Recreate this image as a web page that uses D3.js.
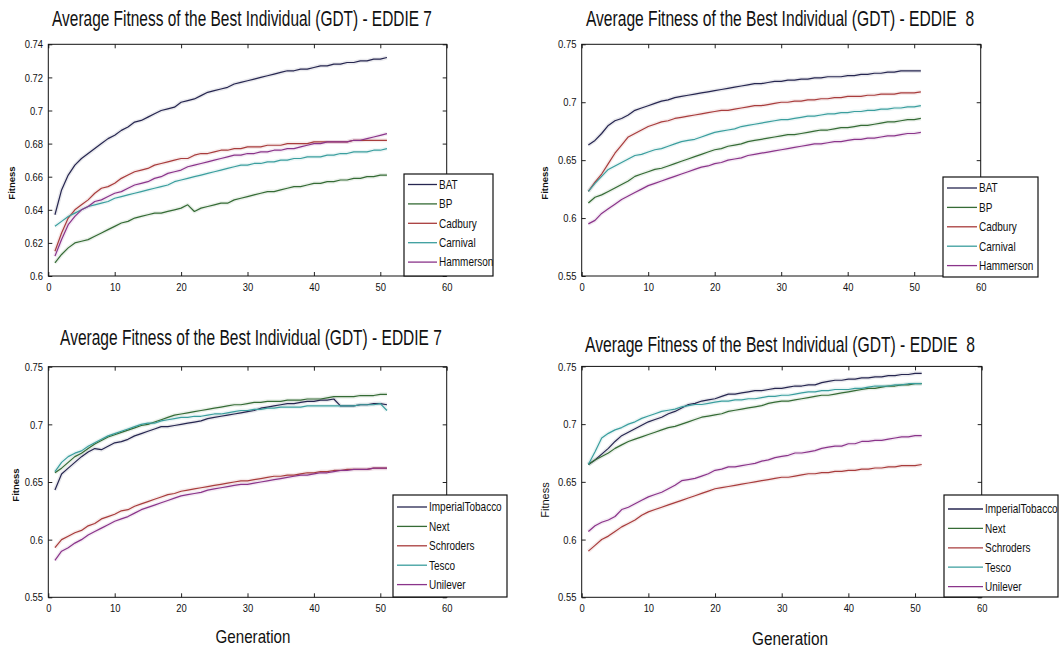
<!DOCTYPE html>
<html>
<head>
<meta charset="utf-8">
<script src="https://cdn.jsdelivr.net/npm/d3@7"></script>
<style>
  html, body { margin: 0; padding: 0; background: #fff; }
  svg { display: block; }
  text { font-family: "Liberation Sans", Arial, sans-serif; fill: #111; }
  .title { white-space: pre; }
</style>
</head>
<body>
<svg id="chart" width="1060" height="651"></svg>
<script>
// Generations on the x axis
const generations = [1,2,3,4,5,6,7,8,9,10,11,12,13,14,15,16,17,18,19,20,21,22,23,24,25,26,27,28,29,30,
  31,32,33,34,35,36,37,38,39,40,41,42,43,44,45,46,47,48,49,50,51];

// Tick values
const xTicks = [0, 10, 20, 30, 40, 50, 60];
const yTicksTopLeft = [0.6, 0.62, 0.64, 0.66, 0.68, 0.7, 0.72, 0.74];
const yTicksOther = [0.55, 0.6, 0.65, 0.7, 0.75];

// Company groups
const companiesA = ["BAT", "BP", "Cadbury", "Carnival", "Hammerson"];
const companiesB = ["ImperialTobacco", "Next", "Schroders", "Tesco", "Unilever"];
const seriesColors = ["#262650", "#356b35", "#a83c3c", "#3a9e9e", "#8a348a"];

// Panel titles
const titleEddie7 = "Average Fitness of the Best Individual (GDT) - EDDIE 7";
const titleEddie8 = "Average Fitness of the Best Individual (GDT) - EDDIE  8";

// EDDIE 7, first group
const e7BAT = [0.637,0.652,0.661,0.667,0.671,0.674,0.677,0.680,0.683,0.685,
  0.688,0.690,0.693,0.694,0.696,0.698,0.700,0.701,0.702,0.705,
  0.706,0.707,0.709,0.711,0.712,0.713,0.714,0.716,0.717,0.718,
  0.719,0.720,0.721,0.722,0.723,0.724,0.724,0.725,0.725,0.726,
  0.727,0.727,0.728,0.728,0.729,0.729,0.730,0.730,0.731,0.731,0.732];
const e7BP = [0.608,0.613,0.617,0.620,0.621,0.622,0.624,0.626,0.628,0.630,
  0.632,0.633,0.635,0.636,0.637,0.638,0.638,0.639,0.640,0.641,
  0.643,0.639,0.641,0.642,0.643,0.644,0.644,0.646,0.647,0.648,
  0.649,0.650,0.651,0.651,0.652,0.653,0.654,0.654,0.655,0.656,
  0.656,0.657,0.657,0.658,0.658,0.659,0.659,0.660,0.660,0.661,0.661];
const e7Cadbury = [0.615,0.626,0.635,0.640,0.643,0.646,0.650,0.653,0.654,0.656,
  0.659,0.661,0.663,0.664,0.665,0.667,0.668,0.669,0.670,0.671,
  0.671,0.673,0.674,0.674,0.675,0.676,0.676,0.677,0.677,0.678,
  0.678,0.678,0.679,0.679,0.679,0.680,0.680,0.680,0.680,0.681,
  0.681,0.681,0.681,0.681,0.681,0.682,0.682,0.682,0.682,0.682,0.682];
const e7Carnival = [0.630,0.633,0.636,0.638,0.640,0.642,0.643,0.644,0.645,0.647,
  0.648,0.649,0.650,0.651,0.652,0.653,0.654,0.655,0.657,0.658,
  0.659,0.660,0.661,0.662,0.663,0.664,0.665,0.666,0.667,0.667,
  0.668,0.668,0.669,0.669,0.670,0.670,0.671,0.671,0.672,0.672,
  0.672,0.673,0.673,0.674,0.674,0.675,0.675,0.675,0.676,0.676,0.677];
const e7Hammerson = [0.612,0.622,0.631,0.636,0.640,0.642,0.645,0.646,0.648,0.650,
  0.651,0.653,0.655,0.656,0.657,0.659,0.660,0.662,0.663,0.664,
  0.666,0.667,0.668,0.669,0.670,0.671,0.672,0.673,0.673,0.674,
  0.674,0.675,0.675,0.676,0.676,0.677,0.677,0.678,0.679,0.680,
  0.680,0.681,0.681,0.681,0.681,0.682,0.682,0.683,0.684,0.685,0.686];

// EDDIE 8, first group
const e8BAT = [0.663,0.667,0.673,0.680,0.684,0.686,0.689,0.693,0.695,0.697,
  0.699,0.701,0.702,0.704,0.705,0.706,0.707,0.708,0.709,0.710,
  0.711,0.712,0.713,0.714,0.715,0.716,0.716,0.717,0.718,0.718,
  0.719,0.719,0.720,0.720,0.721,0.721,0.722,0.722,0.722,0.723,
  0.723,0.724,0.724,0.725,0.725,0.726,0.726,0.727,0.727,0.727,0.727];
const e8BP = [0.613,0.618,0.620,0.623,0.626,0.629,0.632,0.636,0.638,0.640,
  0.642,0.643,0.645,0.647,0.649,0.651,0.653,0.655,0.657,0.659,
  0.660,0.662,0.663,0.664,0.666,0.667,0.668,0.669,0.670,0.671,
  0.672,0.672,0.673,0.674,0.675,0.676,0.676,0.677,0.678,0.678,
  0.679,0.680,0.680,0.681,0.682,0.683,0.683,0.684,0.685,0.685,0.686];
const e8Cadbury = [0.623,0.631,0.638,0.647,0.656,0.663,0.670,0.673,0.676,0.679,
  0.681,0.683,0.684,0.686,0.687,0.688,0.689,0.690,0.691,0.692,
  0.693,0.693,0.694,0.695,0.696,0.697,0.697,0.698,0.699,0.700,
  0.700,0.701,0.701,0.702,0.702,0.703,0.703,0.704,0.704,0.705,
  0.705,0.705,0.706,0.706,0.707,0.707,0.707,0.708,0.708,0.708,0.709];
const e8Carnival = [0.623,0.630,0.636,0.642,0.645,0.648,0.651,0.654,0.655,0.657,
  0.659,0.660,0.662,0.664,0.666,0.667,0.668,0.670,0.672,0.674,
  0.675,0.676,0.677,0.679,0.680,0.681,0.682,0.683,0.684,0.685,
  0.685,0.686,0.687,0.688,0.688,0.689,0.690,0.690,0.691,0.691,
  0.692,0.692,0.693,0.693,0.694,0.694,0.695,0.695,0.696,0.696,0.697];
const e8Hammerson = [0.595,0.598,0.604,0.608,0.612,0.616,0.619,0.622,0.625,0.628,
  0.630,0.632,0.634,0.636,0.638,0.640,0.642,0.644,0.645,0.647,
  0.648,0.650,0.651,0.652,0.654,0.655,0.656,0.657,0.658,0.659,
  0.660,0.661,0.662,0.663,0.664,0.664,0.665,0.666,0.666,0.667,
  0.668,0.668,0.669,0.669,0.670,0.671,0.671,0.672,0.673,0.673,0.674];

// EDDIE 7, second group
const e7ImperialTobacco = [0.643,0.657,0.662,0.667,0.672,0.676,0.679,0.678,0.681,0.684,
  0.685,0.687,0.690,0.692,0.694,0.696,0.698,0.698,0.699,0.700,
  0.701,0.702,0.703,0.705,0.706,0.707,0.708,0.709,0.710,0.711,
  0.712,0.714,0.715,0.716,0.717,0.718,0.718,0.719,0.720,0.720,
  0.721,0.721,0.722,0.716,0.716,0.716,0.717,0.717,0.718,0.718,0.717];
const e7Next = [0.658,0.662,0.667,0.672,0.675,0.679,0.683,0.686,0.689,0.691,
  0.693,0.695,0.697,0.699,0.700,0.702,0.704,0.706,0.708,0.709,
  0.710,0.711,0.712,0.713,0.714,0.715,0.716,0.717,0.717,0.718,
  0.719,0.719,0.720,0.720,0.720,0.721,0.721,0.721,0.722,0.722,
  0.722,0.723,0.724,0.724,0.724,0.724,0.725,0.725,0.725,0.726,0.726];
const e7Schroders = [0.593,0.600,0.603,0.606,0.608,0.612,0.614,0.618,0.620,0.622,
  0.625,0.626,0.629,0.631,0.633,0.635,0.637,0.639,0.640,0.642,
  0.643,0.644,0.645,0.646,0.647,0.648,0.649,0.650,0.651,0.651,
  0.652,0.653,0.654,0.655,0.655,0.656,0.656,0.657,0.658,0.658,
  0.659,0.659,0.660,0.660,0.661,0.661,0.661,0.661,0.662,0.662,0.662];
const e7Tesco = [0.659,0.667,0.672,0.675,0.677,0.681,0.684,0.687,0.690,0.692,
  0.694,0.696,0.698,0.700,0.701,0.701,0.703,0.704,0.705,0.706,
  0.706,0.707,0.707,0.708,0.709,0.709,0.710,0.711,0.712,0.712,
  0.713,0.713,0.714,0.714,0.715,0.715,0.715,0.715,0.716,0.716,
  0.716,0.716,0.716,0.716,0.716,0.716,0.717,0.717,0.717,0.718,0.712];
const e7Unilever = [0.582,0.590,0.593,0.597,0.600,0.604,0.607,0.610,0.613,0.616,
  0.618,0.620,0.623,0.626,0.628,0.630,0.632,0.634,0.636,0.638,
  0.639,0.640,0.641,0.643,0.644,0.645,0.646,0.647,0.648,0.648,
  0.649,0.650,0.651,0.652,0.653,0.654,0.655,0.656,0.656,0.657,
  0.658,0.658,0.659,0.660,0.660,0.661,0.661,0.661,0.662,0.662,0.662];

// EDDIE 8, second group
const e8ImperialTobacco = [0.665,0.669,0.674,0.679,0.685,0.690,0.693,0.696,0.699,0.702,
  0.704,0.706,0.709,0.711,0.714,0.717,0.718,0.720,0.721,0.722,
  0.724,0.726,0.726,0.727,0.728,0.729,0.729,0.730,0.731,0.731,
  0.732,0.733,0.733,0.734,0.734,0.736,0.737,0.738,0.738,0.739,
  0.739,0.740,0.740,0.741,0.741,0.742,0.742,0.743,0.743,0.744,0.744];
const e8Next = [0.665,0.669,0.672,0.675,0.679,0.682,0.685,0.687,0.689,0.691,
  0.693,0.695,0.697,0.698,0.700,0.702,0.704,0.706,0.707,0.708,
  0.709,0.711,0.712,0.713,0.714,0.715,0.716,0.718,0.719,0.720,
  0.720,0.721,0.722,0.723,0.724,0.725,0.725,0.726,0.727,0.728,
  0.729,0.730,0.731,0.731,0.732,0.733,0.733,0.734,0.734,0.735,0.735];
const e8Schroders = [0.590,0.595,0.600,0.603,0.607,0.611,0.614,0.617,0.621,0.624,
  0.626,0.628,0.630,0.632,0.634,0.636,0.638,0.640,0.642,0.644,
  0.645,0.646,0.647,0.648,0.649,0.650,0.651,0.652,0.653,0.654,
  0.654,0.655,0.656,0.657,0.657,0.658,0.658,0.659,0.659,0.660,
  0.660,0.661,0.661,0.662,0.662,0.663,0.663,0.664,0.664,0.664,0.665];
const e8Tesco = [0.665,0.676,0.688,0.692,0.695,0.697,0.700,0.702,0.705,0.707,
  0.709,0.711,0.712,0.713,0.715,0.716,0.717,0.717,0.718,0.719,
  0.720,0.720,0.721,0.721,0.722,0.722,0.723,0.724,0.724,0.725,
  0.725,0.726,0.727,0.728,0.728,0.729,0.729,0.730,0.730,0.730,
  0.731,0.731,0.732,0.733,0.733,0.733,0.734,0.734,0.735,0.735,0.735];
const e8Unilever = [0.607,0.612,0.615,0.617,0.620,0.626,0.628,0.631,0.634,0.637,
  0.639,0.641,0.644,0.647,0.651,0.652,0.653,0.655,0.657,0.660,
  0.661,0.663,0.663,0.664,0.665,0.666,0.668,0.669,0.671,0.672,
  0.673,0.675,0.675,0.676,0.677,0.679,0.680,0.681,0.681,0.683,
  0.683,0.685,0.685,0.686,0.686,0.687,0.688,0.689,0.689,0.690,0.690];

// Layout of the four panels
const panels = [
  { left: 48.3, right: 446.7, top: 44.3, bottom: 276, yDomain: [0.6, 0.74], yTicks: yTicksTopLeft,
    names: companiesA, series: [e7BAT, e7BP, e7Cadbury, e7Carnival, e7Hammerson],
    title: titleEddie7, titleX: 242, titleY: 26, titleLen: 380,
    legend: { x: 404, y: 174, w: 89, h: 102, first: 10.5, line: 29 },
    fitX: 12, fitY: 183, fitSize: 9.5, fitWeight: "bold", xLabel: null },
  { left: 581.7, right: 980.7, top: 44.3, bottom: 276, yDomain: [0.55, 0.75], yTicks: yTicksOther,
    names: companiesA, series: [e8BAT, e8BP, e8Cadbury, e8Carnival, e8Hammerson],
    title: titleEddie8, titleX: 780, titleY: 26, titleLen: 384,
    legend: { x: 943, y: 177, w: 95, h: 100, first: 11, line: 30 },
    fitX: 545, fitY: 183, fitSize: 9.5, fitWeight: "bold", xLabel: null },
  { left: 48.3, right: 446.7, top: 366.7, bottom: 597.3, yDomain: [0.55, 0.75], yTicks: yTicksOther,
    names: companiesB, series: [e7ImperialTobacco, e7Next, e7Schroders, e7Tesco, e7Unilever],
    title: titleEddie7, titleX: 251, titleY: 345, titleLen: 382,
    legend: { x: 393, y: 495, w: 114, h: 102, first: 12, line: 30 },
    fitX: 16, fitY: 485, fitSize: 9.5, fitWeight: "bold", xLabel: { x: 253, y: 643, len: 75 } },
  { left: 581.7, right: 981.7, top: 366.4, bottom: 597.3, yDomain: [0.55, 0.75], yTicks: yTicksOther,
    names: companiesB, series: [e8ImperialTobacco, e8Next, e8Schroders, e8Tesco, e8Unilever],
    title: titleEddie8, titleX: 780, titleY: 352, titleLen: 386,
    legend: { x: 944, y: 495, w: 114, h: 102, first: 14, line: 35 },
    fitX: 545, fitY: 500, fitSize: 11, fitWeight: "normal", xLabel: { x: 790, y: 645, len: 76 } }
];

const svg = d3.select("#chart");
svg.append("rect").attr("width", 1060).attr("height", 651).attr("fill", "#fff");

// Text squeezed horizontally (narrow typeface look); a width caps the squeeze
function squeezedText(parent, x, y, str, size, opts) {
  const holder = parent.append("g");
  const t = holder.append("text").attr("x", 0).attr("y", 0)
    .attr("text-anchor", opts.anchor).attr("font-size", size).attr("fill", "#222").text(str);
  const k = opts.width ? Math.min(1, opts.width / t.node().getComputedTextLength()) : opts.scale;
  holder.attr("transform", `translate(${x},${y}) scale(${k},1)`);
  return t;
}

panels.forEach(p => {
  const g = svg.append("g");
  const x = d3.scaleLinear().domain([0, 60]).range([p.left, p.right]);
  const y = d3.scaleLinear().domain(p.yDomain).range([p.bottom, p.top]);
  const fmt = d => String(+d.toFixed(2));

  // Axes with inward ticks, mirrored on top and right
  const axB = g.append("g").attr("transform", `translate(0,${p.bottom})`)
    .call(d3.axisBottom(x).tickValues(xTicks).tickSize(-4).tickPadding(7).tickFormat(fmt));
  const axT = g.append("g").attr("transform", `translate(0,${p.top})`)
    .call(d3.axisTop(x).tickValues(xTicks).tickSize(-4).tickFormat(""));
  const axL = g.append("g").attr("transform", `translate(${p.left},0)`)
    .call(d3.axisLeft(y).tickValues(p.yTicks).tickSize(-4).tickPadding(5).tickFormat(fmt));
  const axR = g.append("g").attr("transform", `translate(${p.right},0)`)
    .call(d3.axisRight(y).tickValues(p.yTicks).tickSize(-4).tickFormat(""));
  [axB, axT, axL, axR].forEach(a => {
    a.select(".domain").remove();
    a.selectAll("line").attr("stroke", "#222").attr("stroke-width", 1);
    a.selectAll("text").attr("font-size", 11.5)
      .attr("font-family", "'Liberation Sans',Arial,sans-serif")
      .attr("fill", "#222").attr("transform", "scale(0.82,1)");
  });
  axB.selectAll("text").attr("dy", "0.71em");
  axL.selectAll("text").attr("x", -6.5);

  // Plot frame
  g.append("rect")
    .attr("x", p.left).attr("y", p.top)
    .attr("width", p.right - p.left).attr("height", p.bottom - p.top)
    .attr("fill", "none").attr("stroke", "#111").attr("stroke-width", 1);

  // Series lines with a faint halo
  const line = d3.line().x((d, i) => x(generations[i])).y(d => y(d));
  p.series.forEach((vals, k) => {
    g.append("path").datum(vals)
      .attr("d", line).attr("fill", "none")
      .attr("stroke", seriesColors[k]).attr("stroke-width", 4).attr("stroke-opacity", 0.1)
      .attr("stroke-linejoin", "round");
  });
  p.series.forEach((vals, k) => {
    g.append("path").datum(vals)
      .attr("d", line).attr("fill", "none")
      .attr("stroke", seriesColors[k]).attr("stroke-width", 1.2)
      .attr("stroke-linejoin", "round");
  });

  // Legend
  const L = p.legend;
  const lg = g.append("g");
  lg.append("rect").attr("x", L.x).attr("y", L.y).attr("width", L.w).attr("height", L.h)
    .attr("fill", "#fff").attr("stroke", "#111").attr("stroke-width", 1.2);
  p.names.forEach((name, k) => {
    const yy = L.y + L.first + k * 19.4;
    lg.append("line").attr("x1", L.x + 4).attr("x2", L.x + 4 + L.line)
      .attr("y1", yy).attr("y2", yy)
      .attr("stroke", seriesColors[k]).attr("stroke-width", 1.3);
    squeezedText(lg, L.x + 6 + L.line, yy, name, 12.5, { anchor: "start", scale: 0.8 })
      .attr("dy", "0.35em");
  });

  // Title
  squeezedText(g, p.titleX, p.titleY, p.title, 22, { anchor: "middle", width: p.titleLen })
    .attr("class", "title");

  // Y axis label
  g.append("text")
    .attr("transform", `translate(${p.fitX},${p.fitY}) rotate(-90)`)
    .attr("text-anchor", "middle").attr("dy", "0.35em")
    .attr("font-size", p.fitSize).attr("font-weight", p.fitWeight)
    .attr("fill", "#333").text("Fitness");

  // X axis label
  if (p.xLabel) {
    squeezedText(g, p.xLabel.x, p.xLabel.y, "Generation", 18, { anchor: "middle", width: p.xLabel.len });
  }
});
</script>
</body>
</html>
